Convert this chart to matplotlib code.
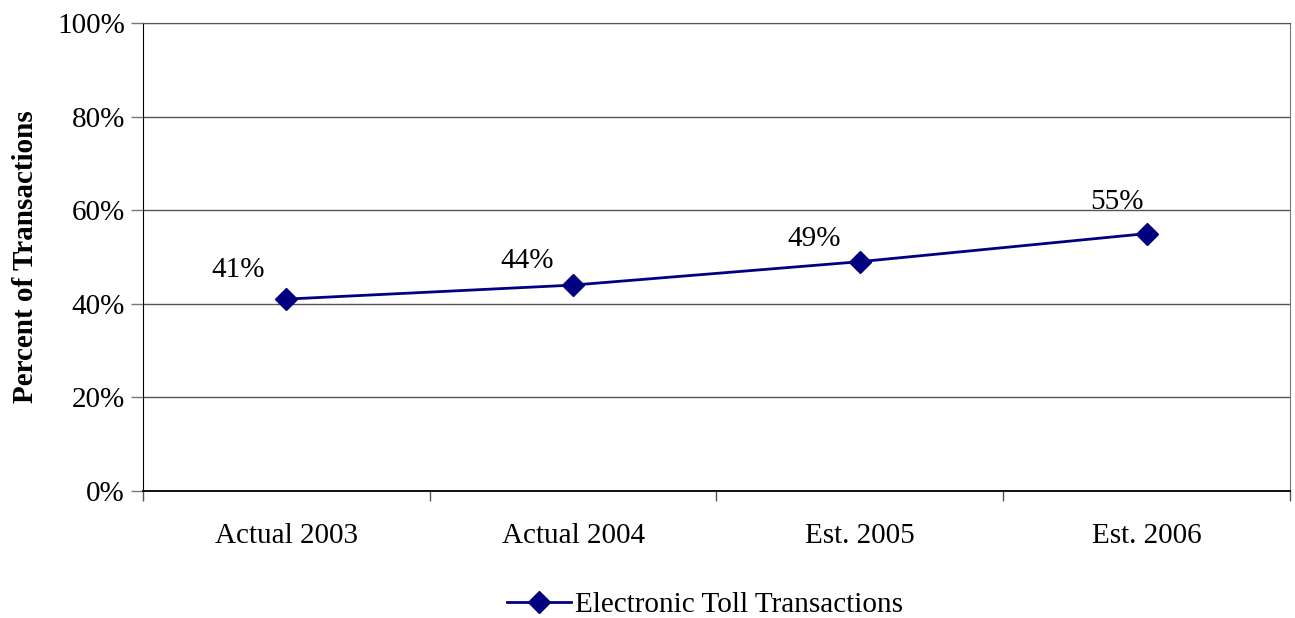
import numpy as np
import matplotlib
matplotlib.use("Agg")
import matplotlib.pyplot as plt
import matplotlib.ticker as mticker

plt.rcParams["font.family"] = ["Liberation Serif", "DejaVu Serif"]

# ─── DATA ────────────────────────────────────────────────────────────────────
categories = ["Actual 2003", "Actual 2004", "Est. 2005", "Est. 2006"]
values = [41, 44, 49, 55]
series_name = "Electronic Toll Transactions"
# label offsets (points) relative to each marker
label_offsets = [(-35, 21), (-33, 17), (-33, 16), (-21, 23)]

NAVY = "#000080"
FS = 21

fig = plt.figure(figsize=(12.95, 6.18), dpi=100)
ax = fig.add_axes([0.1104, 0.2055, 0.8857, 0.7573])

x = np.arange(len(categories))
ax.plot(x, values, color=NAVY, lw=2, marker="D", ms=11, mfc=NAVY, mec=NAVY,
        label=series_name, zorder=3)

for xi, v, (dx, dy) in zip(x, values, label_offsets):
    ax.annotate(f"{v}%", (xi, v), xytext=(dx, dy), textcoords="offset points",
                ha="center", va="center", fontsize=FS)

ax.set_xlim(-0.5, len(categories) - 0.5)
ax.set_ylim(0, 100)
ax.set_yticks(np.arange(0, 101, 20))
ax.yaxis.set_major_formatter(mticker.FuncFormatter(lambda v, _: f"{v:.0f}%"))
ax.grid(axis="y", color="#555555", lw=1)
ax.set_axisbelow(True)

# categories labelled at centres, tick marks at boundaries
ax.set_xticks(x)
ax.set_xticklabels(categories, fontsize=FS)
ax.tick_params(axis="x", which="major", length=0, pad=23)
ax.set_xticks(np.arange(-0.5, len(categories)), minor=True)
ax.tick_params(axis="x", which="minor", length=7, width=1, color="#555555", direction="out")
ax.tick_params(axis="y", length=9, width=1, color="#777777", labelsize=FS, pad=4)

ax.spines["left"].set_color("black")
ax.spines["bottom"].set_color("black")
ax.spines["bottom"].set_linewidth(1.3)
ax.spines["top"].set_color("#555555")
ax.spines["right"].set_color("#777777")

ax.set_ylabel("Percent of Transactions", fontsize=FS, fontweight="bold", labelpad=13)

ax.legend(loc="center", bbox_to_anchor=(0.49, -0.244), frameon=False,
          fontsize=FS, handlelength=2.2, handletextpad=0.15, borderpad=0.1)

plt.savefig("out.png", dpi=100)
